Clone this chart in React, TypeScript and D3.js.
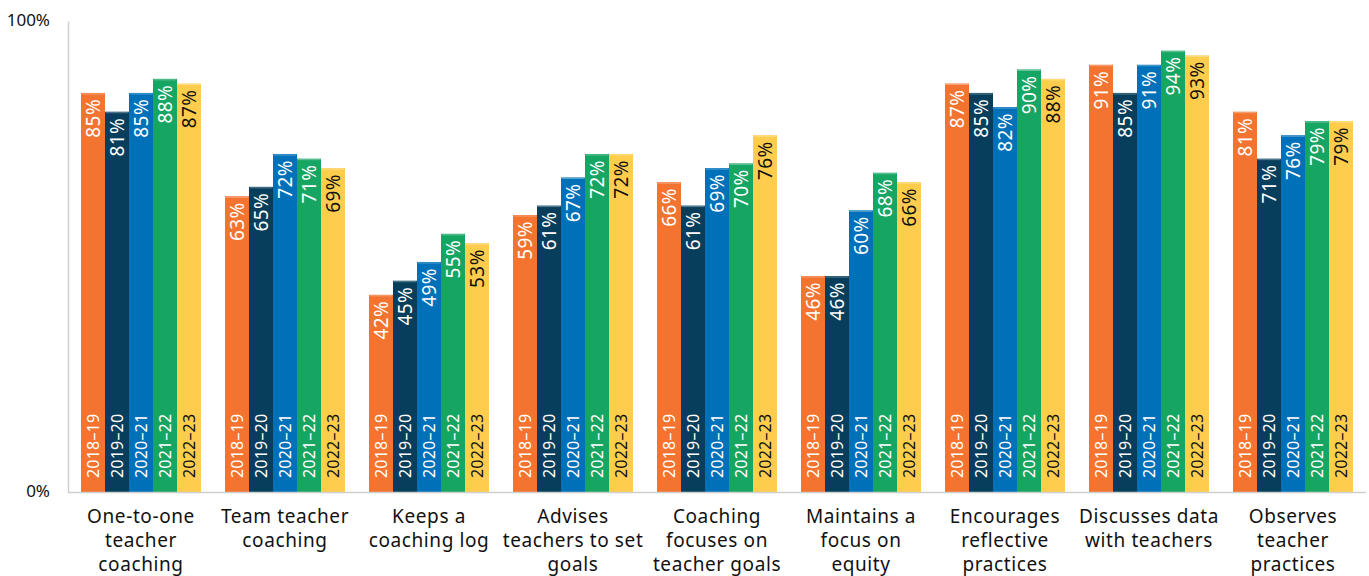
import React from "react";
import * as d3 from "d3";

const categories: string[][] = [
  ["One-to-one", "teacher", "coaching"],
  ["Team teacher", "coaching"],
  ["Keeps a", "coaching log"],
  ["Advises", "teachers to set", "goals"],
  ["Coaching", "focuses on", "teacher goals"],
  ["Maintains a", "focus on", "equity"],
  ["Encourages", "reflective", "practices"],
  ["Discusses data", "with teachers"],
  ["Observes", "teacher", "practices"],
];

const years = ["2018–19", "2019–20", "2020–21", "2021–22", "2022–23"];

const y2018 = [85, 63, 42, 59, 66, 46, 87, 91, 81];
const y2019 = [81, 65, 45, 61, 61, 46, 85, 85, 71];
const y2020 = [85, 72, 49, 67, 69, 60, 82, 91, 76];
const y2021 = [88, 71, 55, 72, 70, 68, 90, 94, 79];
const y2022 = [87, 69, 53, 72, 76, 66, 88, 93, 79];

const series = [y2018, y2019, y2020, y2021, y2022];

const yTicks = [0, 100];

const colors = ["#F37331", "#063E5B", "#0071B9", "#17A563", "#FFCD4E"];
const textColors = ["#ffffff", "#ffffff", "#ffffff", "#ffffff", "#111111"];

const W = 1369;
const H = 576;
const FONT = "'Noto Sans', 'Open Sans', sans-serif";

export default function App() {
  const x0 = d3
    .scaleBand<number>()
    .domain(d3.range(categories.length))
    .range([69, 1365])
    .paddingInner(1 / 6)
    .paddingOuter(1 / 12);
  const x1 = d3
    .scaleBand<number>()
    .domain(d3.range(years.length))
    .range([0, x0.bandwidth()]);
  const y = d3.scaleLinear().domain([0, 100]).range([492, 22.5]);

  return (
    <svg
      width={W}
      height={H}
      style={{ position: "absolute", left: 0, top: 0, display: "block", background: "#fff" }}
      fontFamily={FONT}
    >
      {categories.map((cat, ci) => (
        <g key={ci} transform={`translate(${x0(ci)},0)`}>
          {series.map((s, si) => {
            const v = s[ci];
            const bx = x1(si)!;
            const bw = x1.bandwidth();
            const top = y(v);
            const cx = bx + bw / 2;
            return (
              <g key={si}>
                <rect x={bx} y={top} width={bw} height={y(0) - top} fill={colors[si]} />
                <rect x={bx + 0.5} y={top + 0.5} width={bw - 1} height={1} fill="#ffffff" opacity={0.35} />
                <text
                  transform={`translate(${cx},${top + 6}) rotate(-90)`}
                  textAnchor="end"
                  dominantBaseline="central"
                  fontSize={19}
                  letterSpacing={0.4}
                  fill={textColors[si]}
                >
                  {`${v}%`}
                </text>
                <text
                  transform={`translate(${cx},${y(0) - 14}) rotate(-90)`}
                  textAnchor="start"
                  dominantBaseline="central"
                  fontSize={16}
                  letterSpacing={0.2}
                  fill={textColors[si]}
                >
                  {years[si]}
                </text>
              </g>
            );
          })}
          {cat.map((line, li) => (
            <text
              key={li}
              x={x0.bandwidth() / 2}
              y={523 + li * 24}
              textAnchor="middle"
              fontSize={19}
              letterSpacing={0.6}
              fill="#111"
            >
              {line}
            </text>
          ))}
        </g>
      ))}
      <line x1={68.5} x2={68.5} y1={21.5} y2={492.5} stroke="#cfcfcf" strokeWidth={1.5} />
      <line x1={68} x2={1366} y1={492.5} y2={492.5} stroke="#cfcfcf" strokeWidth={1.5} />
      {yTicks.map((t) => (
        <text
          key={t}
          x={50}
          y={y(t)}
          textAnchor="end"
          dominantBaseline="central"
          fontSize={17}
          fill="#111"
          dy={t === 0 ? -2 : -3}
        >
          {`${t}%`}
        </text>
      ))}
    </svg>
  );
}
